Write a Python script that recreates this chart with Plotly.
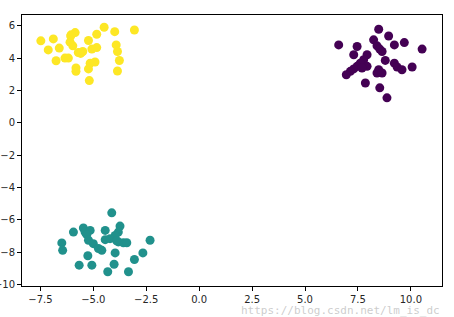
import plotly.graph_objects as go

# cluster 0 (purple)
purple_x = [6.59, 8.48, 8.95, 8.24, 7.46, 8.40, 8.53, 8.64, 9.22, 9.69, 10.53, 7.30, 7.93,
            7.77, 7.61, 7.46, 7.30, 7.14, 6.95, 7.93, 7.69, 8.79, 9.22, 9.35, 9.58, 10.06,
            8.48, 8.40, 8.64, 7.85, 8.53, 8.87]
purple_y = [4.83, 5.80, 5.38, 5.14, 4.73, 4.77, 4.57, 4.42, 4.83, 4.97, 4.57, 4.22, 4.22,
            3.91, 3.70, 3.50, 3.34, 3.19, 2.98, 3.50, 3.40, 3.87, 3.70, 3.46, 3.29, 3.46,
            3.29, 3.09, 3.09, 2.47, 2.17, 1.55]

# cluster 1 (teal)
teal_x = [-4.13, -5.94, -5.47, -5.39, -5.15, -5.31, -4.44, -3.74, -3.82, -3.97, -5.23, -5.00,
          -4.44, -4.21, -4.76, -4.60, -3.82, -3.58, -3.42, -6.49, -6.45, -2.32, -3.97, -2.66,
          -5.26, -3.06, -5.67, -5.07, -4.02, -4.32, -3.34, -3.90]
teal_y = [-5.57, -6.76, -6.51, -6.76, -6.66, -6.92, -6.66, -6.39, -6.76, -6.97, -7.27, -7.48,
          -7.23, -7.17, -7.78, -7.89, -7.37, -7.42, -7.42, -7.43, -7.89, -7.27, -8.05, -8.05,
          -8.23, -8.46, -8.81, -8.81, -8.75, -9.22, -9.22, -7.30]

# cluster 2 (yellow)
yellow_x = [-7.48, -6.89, -7.13, -6.61, -6.76, -6.34, -6.18, -6.07, -5.86, -6.10, -5.97, -5.71,
            -5.50, -5.82, -5.82, -5.23, -5.07, -4.84, -4.84, -4.49, -3.99, -3.92, -3.86, -3.77,
            -3.86, -3.06, -5.15, -4.92, -5.23, -5.19, -6.05, -5.60]
yellow_y = [5.08, 5.20, 4.52, 4.63, 3.85, 4.01, 4.01, 5.38, 5.59, 5.00, 4.77, 4.36,
            4.42, 3.40, 3.19, 5.10, 4.57, 4.66, 5.49, 5.92, 5.65, 4.83, 4.42, 3.86,
            3.21, 5.75, 3.70, 3.77, 3.34, 2.62, 5.45, 4.30]

x_ticks = [-7.5, -5.0, -2.5, 0.0, 2.5, 5.0, 7.5, 10.0]
x_ticktext = ["\u22127.5", "\u22125.0", "\u22122.5", "0.0", "2.5", "5.0", "7.5", "10.0"]
y_ticks = [6, 4, 2, 0, -2, -4, -6, -8, -10]
y_ticktext = ["6", "4", "2", "0", "\u22122", "\u22124", "\u22126", "\u22128", "\u221210"]

fig = go.Figure()
for xs, ys, c in [(purple_x, purple_y, "#440154"),
                  (teal_x, teal_y, "#21918c"),
                  (yellow_x, yellow_y, "#fde725")]:
    fig.add_trace(go.Scatter(x=xs, y=ys, mode="markers",
                             marker=dict(color=c, size=9, line=dict(width=0)),
                             showlegend=False))

fig.update_layout(
    width=454, height=317,
    margin=dict(l=22, r=12, t=15, b=31),
    paper_bgcolor="white", plot_bgcolor="white",
    font=dict(family="DejaVu Sans", size=10, color="#262626"),
)
fig.update_xaxes(range=[-8.37, 11.47], tickvals=x_ticks, ticktext=x_ticktext,
                 showgrid=False, zeroline=False, showline=True, linecolor="black",
                 linewidth=1, mirror=True, ticks="outside", ticklen=4, tickcolor="black",
                 automargin=False)
fig.update_yaxes(range=[-10.1, 6.68], tickvals=y_ticks, ticktext=y_ticktext,
                 showgrid=False, zeroline=False, showline=True, linecolor="black",
                 linewidth=1, mirror=True, ticks="outside", ticklen=4, tickcolor="black",
                 automargin=False)

fig.add_annotation(text="https://blog.csdn.net/lm_is_dc", xref="paper", yref="paper",
                   x=1.0, y=-0.06, xanchor="right", yanchor="top", showarrow=False,
                   font=dict(family="DejaVu Sans Mono", size=11, color="rgba(170,170,170,0.6)"))

fig.write_html("out.html")
